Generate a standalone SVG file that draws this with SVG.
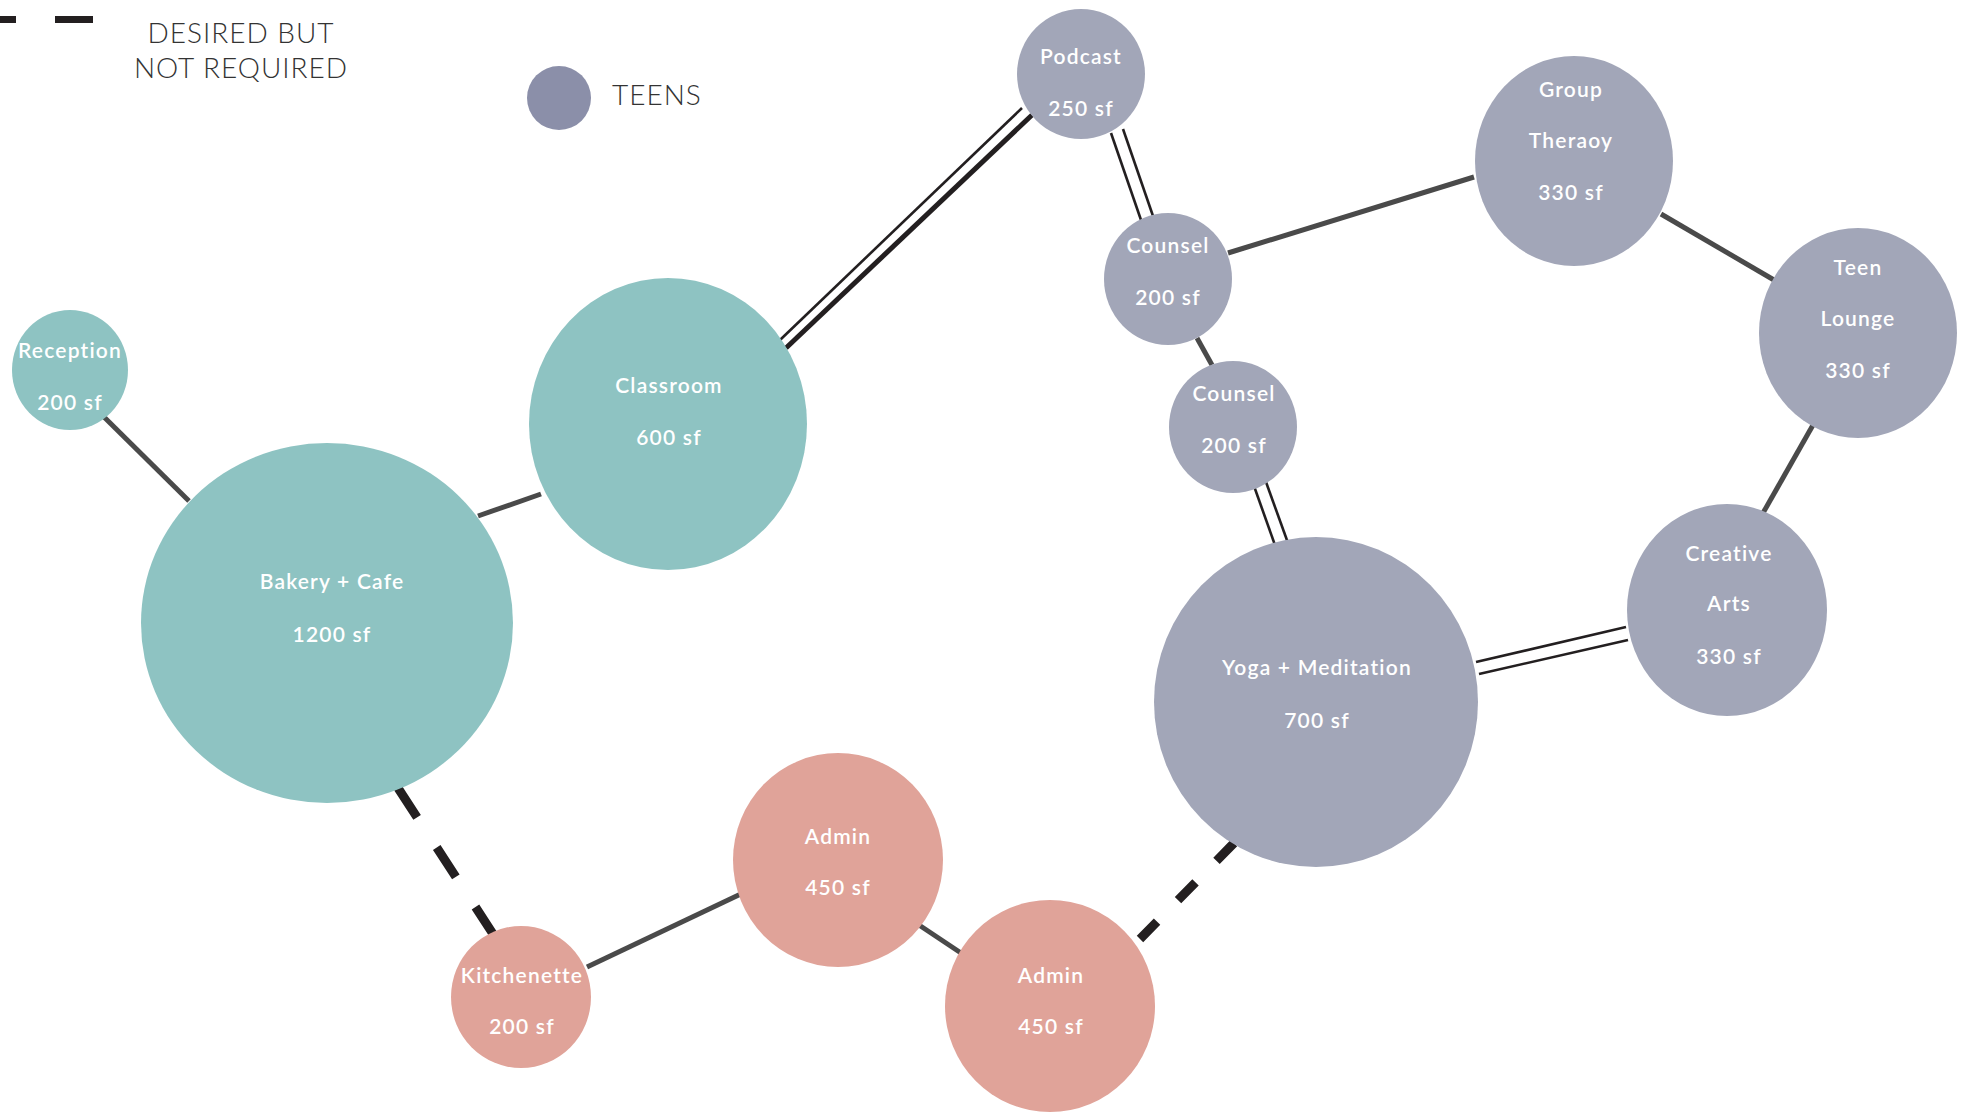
<svg xmlns="http://www.w3.org/2000/svg" width="1969" height="1115" viewBox="0 0 1969 1115">
  <style>
    .teal { fill: #8ec3c2; }
    .teen { fill: #a2a6b8; }
    .staff { fill: #e0a399; }
    .lbl { font-family: Lato, "Open Sans", sans-serif; font-size: 21px; font-weight: 600; fill: #ffffff; text-anchor: middle; letter-spacing: 1.2px; }
    .legend { font-family: Lato, "Open Sans", sans-serif; font-size: 28px; font-weight: 300; fill: #333333; letter-spacing: 1px; }
    .solid { stroke: #4a4a4a; stroke-width: 5; fill: none; }
    .dash { stroke: #231f20; stroke-width: 9; fill: none; }
    .thin { stroke: #231f20; stroke-width: 2.6; fill: none; }
    .thick { stroke: #231f20; stroke-width: 5; fill: none; }
  </style>

  <!-- legend -->
  <g id="legend">
    <line x1="0" y1="19.5" x2="16" y2="19.5" stroke="#231f20" stroke-width="7"/>
    <line x1="55" y1="19.5" x2="93" y2="19.5" stroke="#231f20" stroke-width="7"/>
    <text class="legend" x="241" y="43" text-anchor="middle">DESIRED BUT</text>
    <text class="legend" x="241" y="78" text-anchor="middle">NOT REQUIRED</text>
    <circle cx="559" cy="98" r="32" fill="#8b8fa9"/>
    <text class="legend" x="612" y="105">TEENS</text>
  </g>

  <!-- connectors -->
  <g id="connectors">
    <!-- solid links -->
    <line class="solid" x1="102" y1="415" x2="189" y2="501"/>
    <line class="solid" x1="478" y1="516" x2="541" y2="494"/>
    <line class="solid" x1="1228" y1="253" x2="1474" y2="177"/>
    <line class="solid" x1="1661" y1="214" x2="1774" y2="280"/>
    <line class="solid" x1="1813" y1="425" x2="1763" y2="513"/>
    <line class="solid" x1="1197" y1="338" x2="1212" y2="365"/>
    <line class="solid" x1="587" y1="967" x2="745" y2="892"/>
    <line class="solid" x1="916" y1="923" x2="964" y2="955"/>
    <!-- desired but not required -->
    <line class="dash" x1="398" y1="788" x2="495" y2="937" stroke-dasharray="35 36"/>
    <line class="dash" x1="1234" y1="843" x2="1140" y2="939" stroke-dasharray="25 30"/>
    <!-- double links -->
    <line class="thin" x1="1022" y1="108" x2="780" y2="340"/>
    <line class="thick" x1="1032" y1="115" x2="786" y2="348"/>
    <line class="thin" x1="1111" y1="133" x2="1141" y2="220"/>
    <line class="thin" x1="1123" y1="129" x2="1153" y2="216"/>
    <line class="thin" x1="1254" y1="486" x2="1276" y2="548"/>
    <line class="thin" x1="1266" y1="482" x2="1288" y2="543"/>
    <line class="thin" x1="1476" y1="662" x2="1626" y2="627"/>
    <line class="thin" x1="1479" y1="674" x2="1628" y2="640"/>
  </g>

  <!-- public / cafe spaces -->
  <g id="reception">
    <ellipse class="teal" cx="70" cy="370" rx="58" ry="60"/>
    <text class="lbl" x="70" y="358">Reception</text>
    <text class="lbl" x="70" y="410">200 sf</text>
  </g>
  <g id="bakery-cafe">
    <ellipse class="teal" cx="327" cy="623" rx="186" ry="180"/>
    <text class="lbl" x="332" y="589">Bakery + Cafe</text>
    <text class="lbl" x="332" y="642">1200 sf</text>
  </g>
  <g id="classroom">
    <ellipse class="teal" cx="668" cy="424" rx="139" ry="146"/>
    <text class="lbl" x="669" y="393">Classroom</text>
    <text class="lbl" x="669" y="445">600 sf</text>
  </g>

  <!-- teen spaces -->
  <g id="podcast">
    <ellipse class="teen" cx="1081" cy="74" rx="64" ry="65"/>
    <text class="lbl" x="1081" y="64">Podcast</text>
    <text class="lbl" x="1081" y="116">250 sf</text>
  </g>
  <g id="counsel-1">
    <ellipse class="teen" cx="1168" cy="279" rx="64" ry="66"/>
    <text class="lbl" x="1168" y="253">Counsel</text>
    <text class="lbl" x="1168" y="305">200 sf</text>
  </g>
  <g id="counsel-2">
    <ellipse class="teen" cx="1233" cy="427" rx="64" ry="66"/>
    <text class="lbl" x="1234" y="401">Counsel</text>
    <text class="lbl" x="1234" y="453">200 sf</text>
  </g>
  <g id="group-therapy">
    <ellipse class="teen" cx="1574" cy="161" rx="99" ry="105"/>
    <text class="lbl" x="1571" y="97">Group</text>
    <text class="lbl" x="1571" y="148">Theraoy</text>
    <text class="lbl" x="1571" y="200">330 sf</text>
  </g>
  <g id="teen-lounge">
    <ellipse class="teen" cx="1858" cy="333" rx="99" ry="105"/>
    <text class="lbl" x="1858" y="275">Teen</text>
    <text class="lbl" x="1858" y="326">Lounge</text>
    <text class="lbl" x="1858" y="378">330 sf</text>
  </g>
  <g id="creative-arts">
    <ellipse class="teen" cx="1727" cy="610" rx="100" ry="106"/>
    <text class="lbl" x="1729" y="561">Creative</text>
    <text class="lbl" x="1729" y="611">Arts</text>
    <text class="lbl" x="1729" y="664">330 sf</text>
  </g>
  <g id="yoga-meditation">
    <ellipse class="teen" cx="1316" cy="702" rx="162" ry="165"/>
    <text class="lbl" x="1317" y="675">Yoga + Meditation</text>
    <text class="lbl" x="1317" y="728">700 sf</text>
  </g>

  <!-- staff spaces -->
  <g id="kitchenette">
    <ellipse class="staff" cx="521" cy="997" rx="70" ry="71"/>
    <text class="lbl" x="522" y="983">Kitchenette</text>
    <text class="lbl" x="522" y="1034">200 sf</text>
  </g>
  <g id="admin-1">
    <ellipse class="staff" cx="838" cy="860" rx="105" ry="107"/>
    <text class="lbl" x="838" y="844">Admin</text>
    <text class="lbl" x="838" y="895">450 sf</text>
  </g>
  <g id="admin-2">
    <ellipse class="staff" cx="1050" cy="1006" rx="105" ry="106"/>
    <text class="lbl" x="1051" y="983">Admin</text>
    <text class="lbl" x="1051" y="1034">450 sf</text>
  </g>
</svg>
